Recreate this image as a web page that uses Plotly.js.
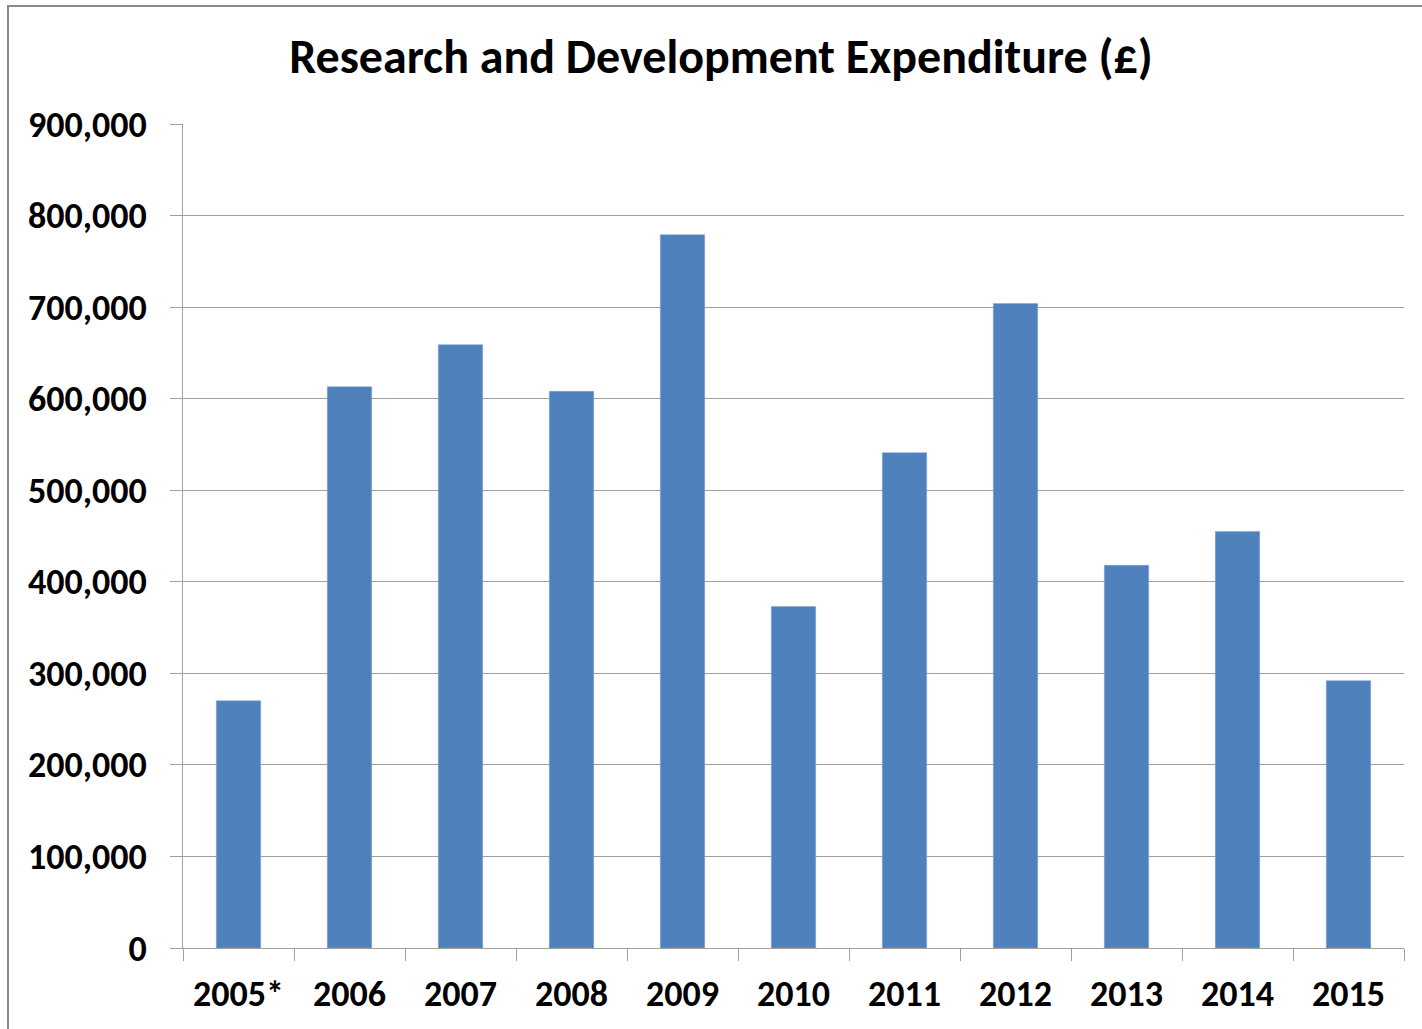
<!DOCTYPE html>
<html>
<head>
<meta charset="utf-8">
<script src="https://cdn.plot.ly/plotly-3.0.1.min.js"></script>
<style>
html,body{margin:0;padding:0;background:#fff;}
#chart{width:1422px;height:1029px;}
</style>
</head>
<body>
<div id="chart"></div>
<script>
const years = ["2005*", "2006", "2007", "2008", "2009", "2010", "2011", "2012", "2013", "2014", "2015"];
const expenditure = [270000, 613000, 659000, 608000, 779000, 373000, 541000, 704000, 418000, 455000, 292000];
const yTicks = [0, 100000, 200000, 300000, 400000, 500000, 600000, 700000, 800000, 900000];
const chartTitle = "Research and Development Expenditure (£)";

const fontFamily = "Carlito, Lato, 'Open Sans', sans-serif";

const trace = {
  type: "bar",
  x: years,
  y: expenditure,
  marker: {color: "#4F81BD", line: {color: "#7FA3D3", width: 0.5}},
  hoverinfo: "x+y"
};

const layout = {
  width: 1422,
  height: 1029,
  margin: {l: 183, r: 18, t: 124, b: 81},
  paper_bgcolor: "#ffffff",
  plot_bgcolor: "#ffffff",
  bargap: 0.6,
  showlegend: false,
  font: {family: fontFamily, color: "#000", size: 35},
  title: {
    text: "<b>" + chartTitle + "</b>",
    font: {family: fontFamily, size: 48, color: "#000"},
    x: 0.507, xref: "container", xanchor: "center",
    y: 1 - 56/1029, yref: "container", yanchor: "middle"
  },
  xaxis: {
    type: "category",
    showgrid: false,
    showline: true,
    linecolor: "#A0A0A0",
    linewidth: 1,
    ticks: "outside",
    tickson: "boundaries",
    ticklen: 12,
    tickcolor: "#A0A0A0",
    tickwidth: 1,
    ticklabelstandoff: 14,
    tickfont: {family: fontFamily, size: 36, color: "#000", weight: "bold"},
    zeroline: false,
    fixedrange: true
  },
  yaxis: {
    range: [0, 900000],
    tickvals: yTicks,
    tickformat: ",",
    showgrid: true,
    gridcolor: "#A0A0A0",
    gridwidth: 1,
    showline: true,
    linecolor: "#A0A0A0",
    linewidth: 1,
    ticks: "outside",
    ticklen: 12,
    tickcolor: "#A0A0A0",
    tickwidth: 1,
    ticklabelstandoff: 16,
    tickfont: {family: fontFamily, size: 36, color: "#000", weight: "bold"},
    zeroline: false,
    fixedrange: true
  },
  separators: ".,",
  shapes: [{
    type: "rect",
    xref: "paper", yref: "paper",
    x0: (8 - 183) / 1221, x1: (1440 - 183) / 1221,
    y0: (948 - 1045) / 824, y1: (948 - 6) / 824,
    line: {color: "#8A8A8A", width: 2},
    fillcolor: "rgba(0,0,0,0)",
    layer: "above"
  }]
};

Plotly.newPlot("chart", [trace], layout, {displayModeBar: false, staticPlot: true});
</script>
</body>
</html>
